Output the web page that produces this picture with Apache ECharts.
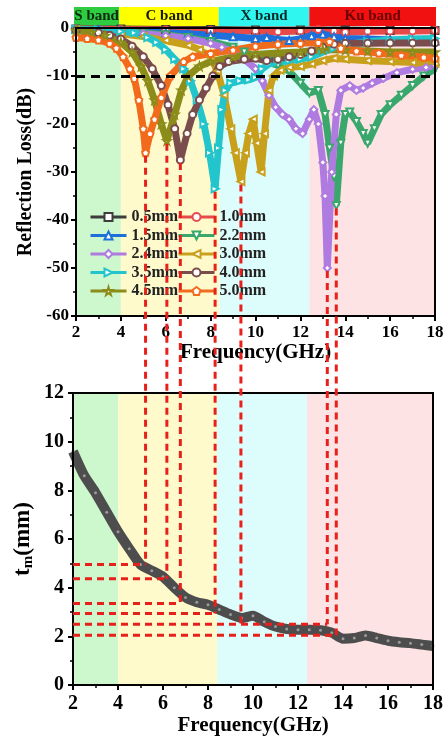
<!DOCTYPE html>
<html><head><meta charset="utf-8">
<script src="https://cdn.jsdelivr.net/npm/echarts@6/dist/echarts.min.js"></script>
<style>html,body{margin:0;padding:0;background:#fff}#c{width:448px;height:740px}</style>
</head><body><div id="c"></div>
<script>
const FONT = 'Liberation Serif';
const bandEdges = [2, 4, 8.4, 12.4, 18];
const bandNames = ['S band', 'C band', 'X band', 'Ku band'];
const bandHeadColors = ['#2ecc40', '#ffff00', '#2ff7f0', '#f21111'];
const bandTextColors = ['#102a10', '#1a1a00', '#0a2a2a', '#6a0000'];
const bandBgColors = ['#cdf7cd', '#fffacc', '#ddfcfc', '#fde3e3'];

const thicknessNames = ['0.5mm', '1.0mm', '1.5mm', '2.2mm', '2.4mm', '3.0mm', '3.5mm', '4.0mm', '4.5mm', '5.0mm'];
const seriesColors = ['#3d3d3d', '#e84a4a', '#1e6fd9', '#3aa76d', '#b07be0', '#c9a01c', '#22c5cc', '#7a4c4c', '#8c8c1a', '#f26b1d'];
const legendCol1 = ['0.5mm', '1.5mm', '2.4mm', '3.5mm', '4.5mm'];
const legendCol2 = ['1.0mm', '2.2mm', '3.0mm', '4.0mm', '5.0mm'];

const rl05 = [[2,-0.2],[4,-0.2],[6,-0.3],[8,-0.3],[10,-0.4],[12,-0.4],[14,-0.4],[16,-0.5],[18,-0.5]];
const rl10 = [[2,-0.2],[4,-0.3],[6,-0.4],[8,-0.5],[10,-0.6],[11,-0.8],[12,-0.6],[12.8,-0.3],[13.5,-0.6],[14,-0.9],[15,-0.7],[16,-0.6],[17,-0.6],[18,-0.5]];
const rl15 = [[2,-0.3],[3,-0.4],[4,-0.6],[5,-0.8],[6,-1.0],[7,-1.2],[8,-1.5],[9,-1.8],[10,-2.2],[10.5,-2.0],[11,-2.4],[11.5,-2.6],[12,-2.3],[12.5,-1.6],[13,-1.3],[13.5,-1.8],[14,-2.2],[15,-2.3],[16,-2.5],[17,-2.6],[18,-2.7]];
const rl22 = [[2,-0.3],[4,-0.7],[5,-1.0],[6,-1.4],[7,-2.0],[8,-2.8],[9,-4.0],[9.5,-5.0],[10,-6.0],[10.5,-7.0],[11,-7.8],[11.5,-9.0],[12,-11.5],[12.4,-13.5],[12.8,-13],[13.1,-18],[13.3,-25],[13.5,-31],[13.6,-37],[13.8,-24],[14,-18],[14.2,-17.5],[14.5,-19.5],[14.8,-22],[15,-24],[15.3,-21],[15.6,-18],[16,-16],[16.5,-14],[17,-12],[17.5,-10],[18,-8.5]];
const rl24 = [[2,-0.3],[4,-0.8],[5,-1.2],[6,-1.6],[7,-2.2],[8,-3.2],[8.5,-4.0],[9,-5.0],[9.5,-6.5],[10,-8.5],[10.3,-11],[10.6,-14],[10.9,-16.5],[11.2,-18],[11.5,-19],[11.8,-21],[12.1,-22],[12.4,-19],[12.6,-17],[12.8,-20],[13.0,-28],[13.1,-35],[13.2,-50],[13.4,-30],[13.6,-18],[13.8,-13],[14.2,-12],[14.5,-13],[14.8,-12.5],[15.2,-11.5],[15.7,-10.5],[16.3,-9.3],[17,-8.6],[17.6,-8.2],[18,-7.8]];
const rl30 = [[2,-0.4],[3,-0.7],[4,-1.2],[5,-1.8],[6,-2.6],[7,-3.6],[7.5,-4.5],[8,-6],[8.3,-9],[8.6,-14],[8.9,-21],[9.1,-26],[9.35,-32],[9.55,-26],[9.7,-22],[9.9,-19],[10.05,-24],[10.25,-30],[10.4,-22],[10.6,-13],[10.8,-10],[11.1,-8.8],[11.5,-8.2],[12,-8.0],[12.5,-7.5],[13,-6.8],[13.5,-6.3],[14,-6.5],[15,-6.8],[16,-7.0],[17,-7.2],[18,-7.3]];
const rl35 = [[2,-0.3],[3,-0.4],[4,-0.7],[4.6,-1.0],[5.2,-2.0],[5.6,-3.0],[6.0,-4.5],[6.4,-6.5],[6.8,-8.5],[7.1,-11],[7.4,-15],[7.7,-20],[7.95,-26],[8.2,-33.5],[8.35,-25],[8.5,-17],[8.65,-13],[8.9,-11.5],[9.3,-11],[9.7,-10.8],[10,-10.3],[10.3,-8.5],[10.6,-7.5],[11,-7.0],[11.5,-6.8],[12,-6.5],[12.5,-6],[13,-5],[13.5,-4.2],[14,-3.5],[15,-2.8],[16,-2.5],[17,-2.3],[18,-2.2]];
const rl40 = [[2,-0.5],[3,-1.0],[3.5,-1.5],[4,-2.3],[4.5,-3.8],[5,-6],[5.4,-8.5],[5.8,-12],[6.1,-16],[6.4,-21],[6.65,-27.5],[6.95,-22],[7.2,-18],[7.5,-15],[7.8,-12.5],[8.1,-10],[8.4,-8],[8.8,-7],[9.5,-6.5],[10,-6.3],[10.5,-6.8],[11,-6.5],[11.5,-6],[12,-5.5],[12.5,-4.8],[13,-4],[13.5,-3.4],[14,-3.2],[15,-3.2],[16,-3.1],[17,-3.1],[18,-3.1]];
const rl45 = [[2,-0.5],[2.7,-0.9],[3.3,-1.6],[4,-3.0],[4.5,-5],[4.9,-8],[5.2,-11],[5.5,-15],[5.8,-20],[6.05,-23.5],[6.4,-18],[6.7,-13],[7.0,-10],[7.5,-8],[8,-7],[9,-6],[10,-5.5],[11,-5.2],[12,-5],[13,-4.5],[14,-4.6],[15,-4.8],[16,-5],[17,-5],[18,-5]];
const rl50 = [[2,-2.0],[2.5,-2.2],[3,-2.5],[3.5,-3.2],[3.8,-4.2],[4.1,-6],[4.4,-8.5],[4.6,-10.5],[4.8,-15],[5.0,-21],[5.1,-26],[5.3,-22],[5.5,-19],[5.8,-14.5],[6.2,-10],[6.8,-7],[7.2,-6],[8,-5.3],[9,-4.6],[10,-3.8],[11,-3.4],[12,-3.2],[12.8,-3.0],[13.3,-2.8],[13.8,-4.2],[14.5,-4.8],[15.5,-5.2],[16.5,-5.7],[17.5,-6.1],[18,-6.3]];
const rlData = [rl05, rl10, rl15, rl22, rl24, rl30, rl35, rl40, rl45, rl50];

const starPath = 'path://M50,0 L61,35 L98,35 L68,57 L79,91 L50,70 L21,91 L32,57 L2,35 L39,35 Z';
const pentPath = 'path://M50,0 L100,38 L81,100 L19,100 L0,38 Z';
const symbols = ['rect', 'circle', 'triangle', 'triangle', 'diamond', 'triangle', 'triangle', 'circle', starPath, pentPath];
const symbolRot = [0, 0, 0, 180, 0, 90, -90, 0, 0, 0];

const tmFreq = [2,2.5,3,3.5,4,4.5,5,5.5,6,6.5,7,7.5,8,8.5,9,9.5,10,10.5,11,11.5,12,12.5,13,13.5,14,14.5,15,15.5,16,16.5,17,17.5,18];
const tmVals = [9.6,8.6,7.9,7.1,6.3,5.6,4.95,4.7,4.45,4.0,3.6,3.4,3.3,3.1,2.9,2.75,2.85,2.6,2.4,2.3,2.27,2.27,2.25,2.15,1.9,1.93,2.03,1.93,1.82,1.76,1.72,1.66,1.6];

const peakFreq = [5.1, 6.05, 6.65, 8.2, 9.35, 13.2, 13.6];
const peakRL = [-26, -23.5, -27.5, -33.5, -32, -50, -37];
const peakTm = [4.95, 4.37, 3.35, 2.94, 2.5, 2.5, 2.04];
const guidePeakIdx = [0, 1, 2, 3, 5, 6];

const chart = echarts.init(document.getElementById('c'));

function bandArea(colors, withLabel) {
  return bandNames.map((n, i) => [
    {name: withLabel ? n : '', xAxis: bandEdges[i], itemStyle: {color: colors[i], opacity: 1},
     label: withLabel ? {show: true, position: 'inside', color: bandTextColors[i], fontFamily: FONT, fontWeight: 'bold', fontSize: 15} : {show: false}},
    {xAxis: bandEdges[i + 1]}
  ]);
}

const axisCommon = {
  axisLine: {show: true, onZero: false, lineStyle: {color: '#000', width: 2}},
  axisTick: {show: true, inside: false, length: 5, lineStyle: {color: '#000', width: 2}},
  minorTick: {show: true, splitNumber: 2, length: 3, lineStyle: {color: '#000', width: 1.5}},
  splitLine: {show: false},
  axisLabel: {color: '#000', fontFamily: FONT, fontWeight: 'bold', fontSize: 17}
};

const series = [];
series.push({type: 'line', xAxisIndex: 0, yAxisIndex: 0, data: [[2, 0.5]], showSymbol: false, lineStyle: {opacity: 0}, silent: true,
  markArea: {silent: true, data: bandArea(bandHeadColors, true)}});
series.push({type: 'line', xAxisIndex: 1, yAxisIndex: 1, z: 1, data: [[2, -30]], showSymbol: false, lineStyle: {opacity: 0}, silent: true,
  markArea: {silent: true, data: bandArea(bandBgColors, false)}});
series.push({type: 'line', xAxisIndex: 2, yAxisIndex: 2, z: 1, data: [[2, 6]], showSymbol: false, lineStyle: {opacity: 0}, silent: true,
  markArea: {silent: true, data: bandArea(bandBgColors, false)}});

thicknessNames.forEach((n, i) => {
  series.push({
    name: n, type: 'line', xAxisIndex: 1, yAxisIndex: 1, z: 3,
    data: rlData[i], symbol: symbols[i], symbolRotate: symbolRot[i], symbolSize: 7, showAllSymbol: true,
    lineStyle: {color: seriesColors[i], width: 7},
    itemStyle: {color: '#ffffff', borderColor: seriesColors[i], borderWidth: 2}
  });
});

series.push({type: 'line', xAxisIndex: 1, yAxisIndex: 1, z: 6, data: [[2, -10]], showSymbol: false, lineStyle: {opacity: 0}, silent: true,
  markLine: {silent: true, symbol: 'none', label: {show: false}, lineStyle: {color: '#000', width: 3, type: [9, 6]}, data: [{yAxis: -10}]}});

series.push({type: 'line', xAxisIndex: 2, yAxisIndex: 2, z: 3, data: tmFreq.map((f, i) => [f, tmVals[i]]),
  symbol: 'circle', symbolSize: 3, showAllSymbol: true, itemStyle: {color: '#9a9a9a', borderWidth: 0},
  smooth: 0.2, lineStyle: {color: '#4d4d4d', width: 10}});

const legendBase = {orient: 'vertical', itemWidth: 36, itemHeight: 10, itemGap: 2.5,
  lineStyle: {width: 3},
  textStyle: {fontFamily: FONT, fontWeight: 'bold', fontSize: 16, color: '#222'}};

chart.setOption({
  animation: false,
  backgroundColor: '#fff',
  legend: [
    Object.assign({left: 84, top: 204, data: legendCol1}, legendBase),
    Object.assign({left: 172, top: 204, data: legendCol2}, legendBase)
  ],
  grid: [
    {left: 74, right: 12, top: 7, height: 19, show: false},
    {left: 76, right: 13, top: 28, height: 288, show: true, borderColor: '#000', borderWidth: 2, z: 8},
    {left: 73, right: 15, top: 393, height: 292, show: true, borderColor: '#000', borderWidth: 2, z: 8}
  ],
  xAxis: [
    {gridIndex: 0, type: 'value', min: 2, max: 18, show: false},
    Object.assign({gridIndex: 1, type: 'value', min: 2, max: 18, interval: 2,
      name: 'Frequency(GHz)', nameLocation: 'middle', nameGap: 25,
      nameTextStyle: {color: '#000', fontFamily: FONT, fontWeight: 'bold', fontSize: 21}}, axisCommon,
      {axisLabel: Object.assign({}, axisCommon.axisLabel, {margin: 8})}),
    Object.assign({gridIndex: 2, type: 'value', min: 2, max: 18, interval: 2,
      name: 'Frequency(GHz)', nameLocation: 'middle', nameGap: 28,
      nameTextStyle: {color: '#000', fontFamily: FONT, fontWeight: 'bold', fontSize: 21}}, axisCommon,
      {axisLabel: Object.assign({}, axisCommon.axisLabel, {margin: 9, fontSize: 20})})
  ],
  yAxis: [
    {gridIndex: 0, type: 'value', min: 0, max: 1, show: false},
    Object.assign({gridIndex: 1, type: 'value', min: -60, max: 0, interval: 10,
      name: 'Reflection Loss(dB)', nameLocation: 'middle', nameRotate: 90, nameGap: 36,
      nameTextStyle: {color: '#000', fontFamily: FONT, fontWeight: 'bold', fontSize: 20}}, axisCommon,
      {axisLabel: Object.assign({}, axisCommon.axisLabel, {margin: 7})}),
    Object.assign({gridIndex: 2, type: 'value', min: 0, max: 12, interval: 2},
      axisCommon, {axisLabel: Object.assign({}, axisCommon.axisLabel, {margin: 9, fontSize: 20})})
  ],
  series: series
});

const graphics = [];
const redStyle = {stroke: '#e8201c', lineWidth: 3, lineDash: [7, 5]};
const peakX = [];
peakFreq.forEach((f, i) => {
  const pTop = chart.convertToPixel({gridIndex: 1}, [f, peakRL[i]]);
  const pBot = chart.convertToPixel({gridIndex: 2}, [f, peakTm[i]]);
  peakX.push(pTop[0]);
  graphics.push({type: 'line', z: 50, silent: true, shape: {x1: pTop[0], y1: pTop[1] + 3, x2: pTop[0], y2: pBot[1]}, style: redStyle});
});
guidePeakIdx.forEach(i => {
  const pL = chart.convertToPixel({gridIndex: 2}, [2, peakTm[i]]);
  graphics.push({type: 'line', z: 50, silent: true, shape: {x1: pL[0], y1: pL[1], x2: peakX[i], y2: pL[1]}, style: redStyle});
});
const c0 = chart.convertToPixel({gridIndex: 2}, [2, 6]);
graphics.push({type: 'text', silent: true, x: c0[0] - 50, y: c0[1], rotation: Math.PI / 2,
  style: {text: '{t|t}{s|m}{t|(mm)}', align: 'center', verticalAlign: 'middle',
    rich: {t: {fontFamily: FONT, fontWeight: 'bold', fontSize: 23, fill: '#000', lineHeight: 26},
           s: {fontFamily: FONT, fontWeight: 'bold', fontSize: 15, fill: '#000', verticalAlign: 'bottom', lineHeight: 14}}}});
chart.setOption({graphic: graphics});
</script>
</body></html>
